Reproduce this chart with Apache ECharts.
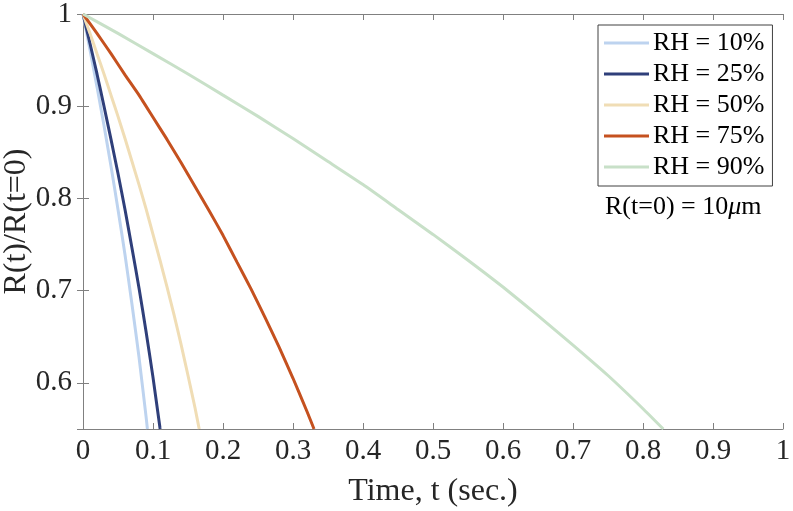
<!DOCTYPE html>
<html>
<head>
<meta charset="utf-8">
<script src="https://cdn.jsdelivr.net/npm/echarts@6/dist/echarts.min.js"></script>
<style>html,body{margin:0;padding:0;background:#fff}#c{width:793px;height:511px}</style>
</head>
<body>
<div id="c"></div>
<script>
// Data
var seriesNames = ['RH = 10%', 'RH = 25%', 'RH = 50%', 'RH = 75%', 'RH = 90%'];
var xTicks = ['0','0.1','0.2','0.3','0.4','0.5','0.6','0.7','0.8','0.9','1'];

var rh10 = [[0,1],[0.01,0.961],[0.02,0.921],[0.03,0.879],[0.04,0.835],[0.05,0.788],[0.06,0.739],[0.07,0.685],[0.08,0.628],[0.09,0.564],[0.092,0.55]];
var rh25 = [[0,1],[0.01,0.968],[0.02,0.935],[0.03,0.900],[0.04,0.864],[0.05,0.827],[0.06,0.788],[0.07,0.746],[0.08,0.703],[0.09,0.656],[0.10,0.606],[0.11,0.551],[0.1102,0.55]];
var rh50 = [[0,1],[0.01,0.979],[0.02,0.957],[0.03,0.935],[0.04,0.912],[0.05,0.889],[0.06,0.865],[0.07,0.840],[0.08,0.815],[0.09,0.789],[0.10,0.761],[0.11,0.733],[0.12,0.704],[0.13,0.674],[0.14,0.642],[0.15,0.608],[0.16,0.573],[0.166,0.55]];
var rh75 = [[0,1],[0.02,0.979],[0.04,0.957],[0.06,0.934],[0.08,0.912],[0.10,0.888],[0.12,0.864],[0.14,0.839],[0.16,0.813],[0.18,0.787],[0.20,0.760],[0.22,0.731],[0.24,0.702],[0.26,0.671],[0.28,0.639],[0.30,0.605],[0.32,0.569],[0.33,0.55]];
var rh90 = [[0,1],[0.05,0.979],[0.10,0.957],[0.15,0.935],[0.20,0.912],[0.25,0.889],[0.30,0.865],[0.35,0.840],[0.40,0.815],[0.45,0.788],[0.50,0.761],[0.55,0.733],[0.60,0.704],[0.65,0.673],[0.70,0.641],[0.75,0.608],[0.80,0.572],[0.829,0.55]];

var colors = ['#bdd3ef', '#2f3f7a', '#f0ddb5', '#c5511f', '#c8e0c8'];
var allData = [rh10, rh25, rh50, rh75, rh90];

var FONT = '"Liberation Serif", "Times New Roman", serif';
var AX = '#808080';
var TXT = '#262626';

var chart = echarts.init(document.getElementById('c'), null, {renderer: 'canvas'});

var series = allData.map(function (d, i) {
  return {
    name: seriesNames[i],
    type: 'line',
    data: d,
    showSymbol: false,
    symbol: 'none',
    smooth: 0.15,
    lineStyle: {color: colors[i], width: 3},
    itemStyle: {color: colors[i]},
    clip: true,
    animation: false
  };
});

chart.setOption({
  animation: false,
  backgroundColor: '#fff',
  grid: {left: 83, right: 10, top: 14, bottom: 82, containLabel: false, outerBoundsMode: 'none'},
  legend: {
    orient: 'vertical',
    left: 598,
    top: 25,
    data: seriesNames,
    icon: 'rect',
    itemWidth: 45,
    itemHeight: 3,
    itemGap: 5,
    padding: [5, 8, 6, 6],
    borderColor: '#404040',
    borderWidth: 1,
    backgroundColor: '#fff',
    textStyle: {fontFamily: FONT, fontSize: 26, color: '#000', padding: [0, 0, 0, -1]}
  },
  xAxis: [{
    type: 'value', min: 0, max: 1, interval: 0.1,
    position: 'bottom',
    name: 'Time, t (sec.)', nameLocation: 'middle', nameGap: 47, nameMoveOverlap: false,
    nameTextStyle: {fontFamily: FONT, fontSize: 32, color: TXT},
    axisLine: {show: true, lineStyle: {color: AX, width: 1}},
    axisTick: {show: true, inside: true, length: 6, lineStyle: {color: AX}},
    axisLabel: {fontFamily: FONT, fontSize: 29, color: TXT, margin: 8,
      formatter: function (v) { return xTicks[Math.round(v * 10)]; }},
    splitLine: {show: false}
  }, {
    type: 'value', min: 0, max: 1, interval: 0.1,
    position: 'top',
    axisLine: {show: true, lineStyle: {color: AX, width: 1}},
    axisTick: {show: true, inside: true, length: 6, lineStyle: {color: AX}},
    axisLabel: {show: false},
    splitLine: {show: false}
  }],
  yAxis: [{
    type: 'value', min: 0.55, max: 1, splitNumber: 5,
    position: 'left',
    name: 'R(t)/R(t=0)', nameLocation: 'middle', nameGap: 50, nameMoveOverlap: false,
    nameTextStyle: {fontFamily: FONT, fontSize: 32, color: TXT},
    axisLine: {show: true, lineStyle: {color: AX, width: 1}},
    axisTick: {show: true, inside: true, length: 6, lineStyle: {color: AX}},
    axisLabel: {fontFamily: FONT, fontSize: 29, color: TXT, margin: 11, showMinLabel: false,
      formatter: function (v) { return Math.abs(v - 1) < 1e-9 ? '1' : (Math.round(v * 10) / 10).toString(); }},
    splitLine: {show: false}
  }, {
    type: 'value', min: 0.55, max: 1, splitNumber: 5,
    position: 'right',
    axisLine: {show: true, lineStyle: {color: AX, width: 1}},
    axisTick: {show: true, inside: true, length: 6, lineStyle: {color: AX}},
    axisLabel: {show: false},
    splitLine: {show: false}
  }],
  graphic: [{
    type: 'text',
    left: 605,
    top: 194,
    style: {
      text: '{a|R(t=0) = 10}{b|μ}{a|m}',
      rich: {
        a: {fontFamily: FONT, fontSize: 26, fill: '#000'},
        b: {fontFamily: FONT, fontSize: 26, fontStyle: 'italic', fill: '#000'}
      }
    }
  }],
  series: series
});
</script>
</body>
</html>
